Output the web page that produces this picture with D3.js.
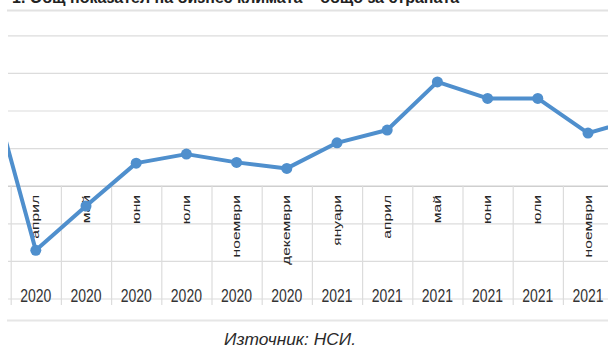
<!DOCTYPE html>
<html>
<head>
<meta charset="utf-8">
<script src="https://cdn.jsdelivr.net/npm/d3@7"></script>
<style>
  body { margin: 0; background: #fff; }
  svg { display: block; }
</style>
</head>
<body>
<script>
// months shown on the category axis (first and last ones sit outside the crop)
var months = ["март", "април", "май", "юни", "юли", "ноември", "декември",
              "януари", "април", "май", "юни", "юли", "ноември", "декември"];
var years = [2020, 2020, 2020, 2020, 2020, 2020, 2020,
             2021, 2021, 2021, 2021, 2021, 2021, 2021];
var values = [15.8, -8.6, -2.7, 3.0, 4.2, 3.1, 2.3,
              5.7, 7.4, 13.8, 11.6, 11.6, 7.0, 8.9];
var yTicks = [-15, -10, -5, 0, 5, 10, 15, 20];

var title = "1. Общ показател на бизнес климата – общо за страната";
var source = "Източник: НСИ.";

var width = 608, height = 347;

var svg = d3.select("body").append("svg")
    .attr("width", width)
    .attr("height", height);

let data = months.map((m, i) => ({key: i, month: m, year: years[i], value: values[i]}));

let x = d3.scaleBand()
    .domain(data.map(d => d.key))
    .range([-39.5, -39.5 + 14 * 50.2])
    .padding(0);

let y = d3.scaleLinear()
    .domain([-15, 20])
    .range([298.5, 35.3]);

svg.append("defs").append("clipPath")
    .attr("id", "plotclip")
  .append("rect")
    .attr("x", 8).attr("y", 0)
    .attr("width", width - 8).attr("height", height);

// title, mostly cut off by the crop
svg.append("text")
    .attr("x", 12).attr("y", 3)
    .attr("font-family", "Liberation Sans, Arial, sans-serif")
    .attr("font-size", 16)
    .attr("font-weight", "bold")
    .attr("fill", "#222")
    .text(title);

// frame lines
svg.append("line")
    .attr("x1", 7).attr("x2", width)
    .attr("y1", 10.5).attr("y2", 10.5)
    .attr("stroke", "#e2e2e2").attr("stroke-width", 2);
svg.append("line")
    .attr("x1", 7).attr("x2", width)
    .attr("y1", 320.5).attr("y2", 320.5)
    .attr("stroke", "#e6e6e6").attr("stroke-width", 2);

let plot = svg.append("g").attr("clip-path", "url(#plotclip)");

// horizontal gridlines
plot.append("g")
    .attr("class", "grid")
    .call(d3.axisLeft(y).tickValues(yTicks).tickSize(-(width - 8)).tickFormat(""))
    .attr("transform", "translate(8,0)")
    .call(g => g.select(".domain").remove())
    .call(g => g.selectAll("line")
        .attr("stroke", d => d === 0 ? "#cfcfcf" : "#dcdcdc")
        .attr("stroke-width", d => d === 0 ? 1.5 : 1.2));

// category separators (two-level axis)
let axisTop = y(0);
plot.append("g")
    .selectAll("line")
    .data(data)
    .join("line")
      .attr("x1", d => x(d.key) + 0.5)
      .attr("x2", d => x(d.key) + 0.5)
      .attr("y1", axisTop)
      .attr("y2", 305)
      .attr("stroke", "#dcdcdc")
      .attr("stroke-width", 1.2);

// month labels, rotated, reading upward
plot.append("g")
    .selectAll("text")
    .data(data)
    .join("text")
      .attr("transform", d => "translate(" + (x(d.key) + x.bandwidth() / 2) + ",195) scale(1,1.42) rotate(-90)")
      .attr("text-anchor", "end")
      .attr("dy", "0.33em")
      .attr("font-family", "Liberation Sans, Arial, sans-serif")
      .attr("font-size", 11)
      .attr("fill", "#262626")
      .text(d => d.month);

// year labels
plot.append("g")
    .selectAll("text")
    .data(data)
    .join("text")
      .attr("transform", d => "translate(" + (x(d.key) + x.bandwidth() / 2) + ",302) scale(1,1.3)")
      .attr("text-anchor", "middle")
      .attr("font-family", "Liberation Sans, Arial, sans-serif")
      .attr("font-size", 14)
      .attr("fill", "#333")
      .text(d => d.year);

// the series
let line = d3.line()
    .x(d => x(d.key) + x.bandwidth() / 2)
    .y(d => y(d.value));

plot.append("path")
    .datum(data)
    .attr("d", line)
    .attr("fill", "none")
    .attr("stroke", "#4f8fcd")
    .attr("stroke-width", 4)
    .attr("stroke-linejoin", "round");

plot.append("g")
    .selectAll("circle")
    .data(data)
    .join("circle")
      .attr("cx", d => x(d.key) + x.bandwidth() / 2)
      .attr("cy", d => y(d.value))
      .attr("r", 5.5)
      .attr("fill", "#4f8fcd");

// source note
svg.append("text")
    .attr("transform", "translate(290,345) scale(1,1.2)")
    .attr("text-anchor", "middle")
    .attr("font-family", "Liberation Sans, Arial, sans-serif")
    .attr("font-size", 13)
    .attr("font-style", "italic")
    .attr("fill", "#2a2a2a")
    .attr("textLength", 132)
    .attr("lengthAdjust", "spacingAndGlyphs")
    .text(source);
</script>
</body>
</html>
